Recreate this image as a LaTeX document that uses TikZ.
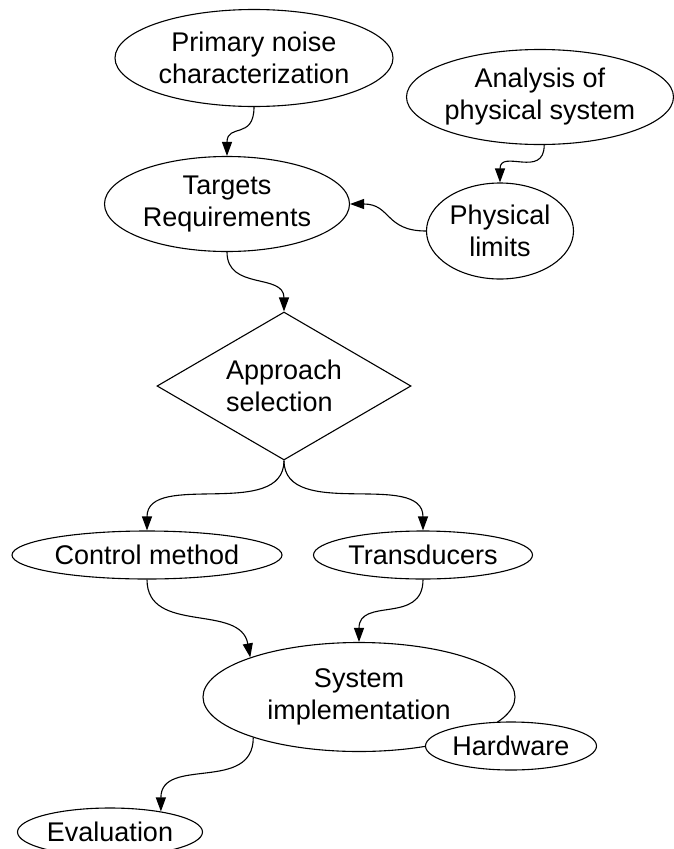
\documentclass[tikz,border=0pt]{standalone}
\usepackage{fontspec}
\setmainfont{Liberation Sans}
\usetikzlibrary{shapes.geometric,arrows.meta}
\tikzset{
  ell/.style={draw, ellipse, line width=1.1pt, fill=white, inner xsep=-25pt, inner ysep=-12pt,
    align=center, font=\fontsize{27}{32}\selectfont},
  dia/.style={draw, diamond, line width=1.1pt, inner sep=0pt, aspect=1.716,
    align=left, font=\fontsize{27}{32}\selectfont},
  arr/.style={line width=1.1pt, -{Triangle[length=14pt,width=10pt]}},
}
\begin{document}
\begin{tikzpicture}[x=1pt,y=1pt]
\useasboundingbox (0,0) rectangle (674,-849);
\node[ell, minimum width=278pt, minimum height=97pt] (prim) at (254,-58) {Primary noise\\characterization};
\node[ell, minimum width=267pt, minimum height=95pt] (anal) at (540,-97) {Analysis of\\physical system};
\node[ell, minimum width=245pt, minimum height=95pt] (targ) at (227,-204) {Targets\\Requirements};
\node[ell, minimum width=147pt, minimum height=96pt] (phys) at (500,-231) {Physical\\limits};
\node[dia, minimum width=254pt, minimum height=148pt] (appr) at (284,-386) {Approach\\selection};
\node[ell, minimum width=270pt, minimum height=48pt] (cm) at (147,-555) {Control method};
\node[ell, minimum width=219pt, minimum height=48pt] (tr) at (423,-555) {Transducers};
\node[ell, minimum width=312pt, minimum height=109pt] (sys) at (359,-697) {System\\implementation};
\node[ell, minimum width=171pt, minimum height=48pt] (hw) at (511,-746) {Hardware};
\node[ell, minimum width=185pt, minimum height=48pt] (ev) at (110,-832) {Evaluation};

\draw[arr] (prim.south) to[out=-90,in=90,looseness=1.5] (targ.north);
\draw[arr] (anal.275) to[out=-90,in=90,looseness=1.5] (phys.north);
\draw[arr] (phys.west) to[out=180,in=0,looseness=1.3] (targ.east);
\draw[arr] (targ.south) to[out=-90,in=90,looseness=1.2] (appr.north);
\draw[arr] (appr.south) to[out=-90,in=90] (cm.north);
\draw[arr] (appr.south) to[out=-90,in=90] (tr.north);
\draw[arr] (cm.south) to[out=-90,in=100,looseness=1.1] (sys.160);
\draw[arr] (tr.south) to[out=-90,in=90,looseness=1.3] (sys.north);
\draw[arr] (sys.201) to[out=-90,in=90,looseness=1.2] (ev.22);
\end{tikzpicture}
\end{document}
